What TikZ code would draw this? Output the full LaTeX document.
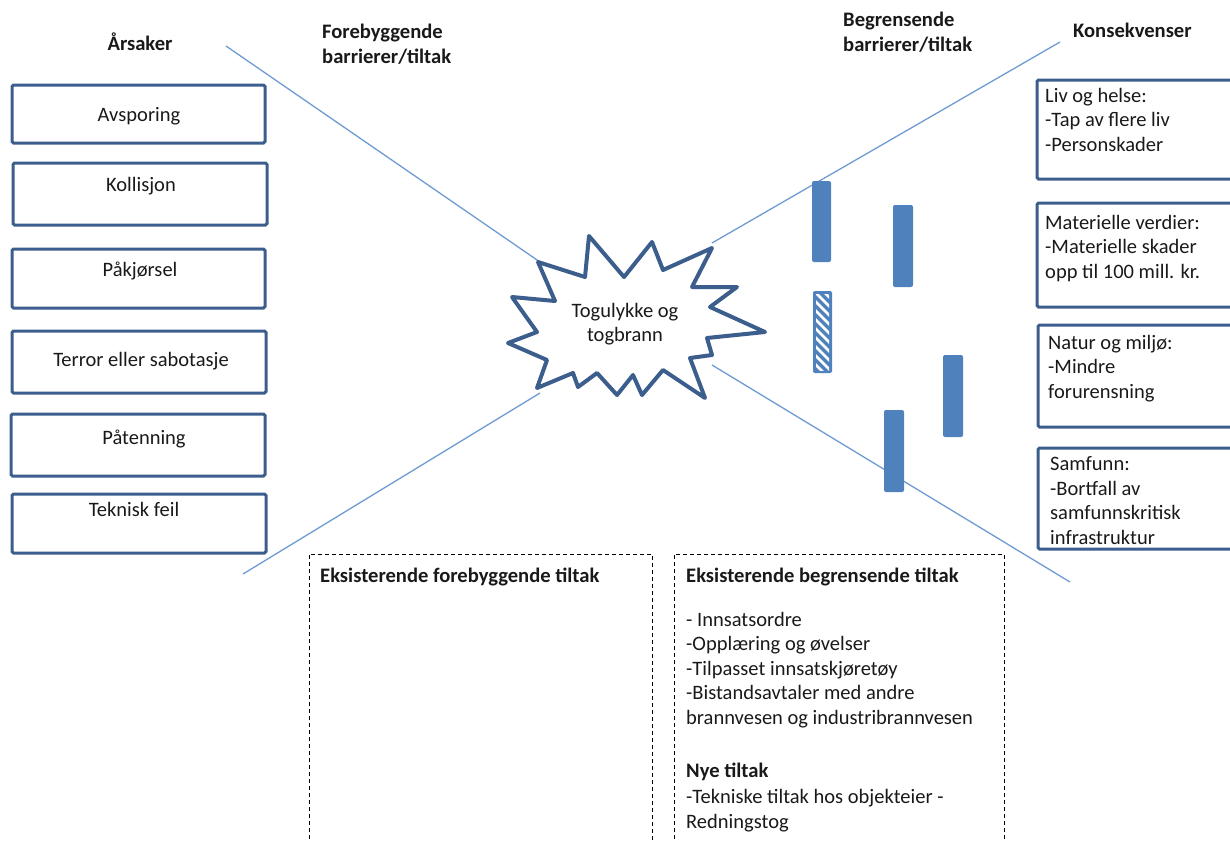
\documentclass[tikz,border=0pt]{standalone}
\usepackage{fontspec}
\setmainfont{Carlito}
\definecolor{boxblue}{RGB}{60,94,140}
\definecolor{linblue}{RGB}{110,155,210}
\definecolor{barblue}{RGB}{79,129,189}
\definecolor{txt}{RGB}{25,25,25}
\tikzset{
  causebox/.style={draw=boxblue, line width=3pt, rounded corners=1.5pt},
  conbox/.style={draw=boxblue, line width=3pt, rounded corners=1.5pt},
  diag/.style={draw=linblue, line width=1.3pt},
  burst/.style={draw=boxblue, fill=white, line width=4pt, line join=round},
  barfill/.style={fill=barblue, rounded corners=2pt},
  dashbox/.style={draw=black, line width=0.9pt, dash pattern=on 4pt off 3pt},
  lbl/.style={inner sep=0pt, text=txt, font=\fontsize{20.5}{24.5}\selectfont},
  lblb/.style={inner sep=0pt, text=txt, font=\fontsize{20.6}{25}\selectfont\bfseries},
}
\begin{document}
\begin{tikzpicture}[x=1pt,y=-1pt]
\useasboundingbox (0,0) rectangle (1230,841);
\clip (0,0) rectangle (1230,841);

% diagonal connectors
\coordinate (a1) at (226,46);  \coordinate (a2) at (540,262);
\coordinate (b1) at (243,574); \coordinate (b2) at (540,393);
\coordinate (c1) at (1060,42); \coordinate (c2) at (712,243);
\coordinate (d1) at (712,365); \coordinate (d2) at (1070,582);
\draw[diag] (a1) -- (a2);
\draw[diag] (b1) -- (b2);
\draw[diag] (c1) -- (c2);
\draw[diag] (d1) -- (d2);

% headers (multi-line nodes: base = last line)
\node[lblb, anchor=base] (hArs) at (140,50) {Årsaker};
\node[lblb, anchor=base west, align=left] (hFor) at (322,63) {Forebyggende\\barrierer/tiltak};
\node[lblb, anchor=base west, align=left] (hBeg) at (843,51) {Begrensende\\barrierer/tiltak};
\node[lblb, anchor=base west] (hKon) at (1073,37) {Konsekvenser};

% cause boxes
\draw[causebox] (12,85) rectangle (265,143);
\draw[causebox] (13,163) rectangle (267,225);
\draw[causebox] (12,249) rectangle (265,308);
\draw[causebox] (12,331) rectangle (266,393);
\draw[causebox] (11,414) rectangle (265,476);
\draw[causebox] (12,494) rectangle (266,553);
\node[lbl, anchor=base] (c1t) at (139,121) {Avsporing};
\node[lbl, anchor=base] (c2t) at (141,191) {Kollisjon};
\node[lbl, anchor=base] (c3t) at (140,276) {Påkjørsel};
\node[lbl, anchor=base] (c4t) at (141,366) {Terror eller sabotasje};
\node[lbl, anchor=base] (c5t) at (144,444) {Påtenning};
\node[lbl, anchor=base] (c6t) at (134,516) {Teknisk feil};

% consequence boxes
\draw[conbox] (1037,80) rectangle (1245,179);
\draw[conbox] (1037,203) rectangle (1245,307);
\draw[conbox] (1038,325) rectangle (1245,427);
\draw[conbox] (1038,448) rectangle (1245,549);
\node[lbl, anchor=base west, align=left] (k1) at (1045,151) {Liv og helse:\\-Tap av flere liv\\-Personskader};
\node[lbl, anchor=base west, align=left] (k2) at (1045,278) {Materielle verdier:\\-Materielle skader\\opp til 100 mill. kr.};
\node[lbl, anchor=base west, align=left] (k3) at (1048,398) {Natur og miljø:\\-Mindre\\forurensning};
\node[lbl, anchor=base west, align=left] (k4) at (1050,544) {Samfunn:\\-Bortfall av\\samfunnskritisk\\infrastruktur};

% starburst (top event)
\draw[burst] (538,262) -- (585,277) -- (589,236) -- (624,277) -- (652,242) -- (663,270)
  -- (712,248) -- (692,287) -- (737,287) -- (710,307) -- (765,332) -- (707,338)
  -- (712,355) -- (690,358) -- (705,398) -- (663,370) -- (642,395) -- (633,375)
  -- (617,395) -- (597,373) -- (578,387) -- (573,373) -- (537,388) -- (547,360)
  -- (508,343) -- (537,332) -- (512,297) -- (555,301) -- cycle;
\node[lbl, align=center] (event) at (625,324) {Togulykke og\\togbrann};

% barriers
\fill[barfill] (812,181) rectangle (831,262);
\fill[barfill] (893,205) rectangle (913,287);
\fill[barfill] (943,355) rectangle (963,437);
\fill[barfill] (884,410) rectangle (904,492);
\fill[barfill] (813,291) rectangle (832,373);
\begin{scope}
  \clip (816,294) rectangle (829,370);
  \foreach \k in {-2,...,10}
    \draw[white, line width=2.6pt] (810,{287+9*\k}) -- (840,{317+9*\k});
\end{scope}

% bottom dashed boxes
\draw[dashbox] (309,860) -- (309,554) -- (652,554) -- (652,860);
\draw[dashbox] (674,860) -- (674,554) -- (1004,554) -- (1004,860);
\node[lblb, anchor=base west] (ef) at (320,582) {Eksisterende forebyggende tiltak};
\node[lblb, anchor=base west] (eb) at (686,582) {Eksisterende begrensende tiltak};
\node[lbl, anchor=base west, align=left] (ebl) at (686,724) {- Innsatsordre\\-Opplæring og øvelser\\-Tilpasset innsatskjøretøy\\-Bistandsavtaler med andre\\brannvesen og industribrannvesen};
\node[lblb, anchor=base west] (ny) at (686,777) {Nye tiltak};
\node[lbl, anchor=base west, align=left] (nyl) at (686,828) {-Tekniske tiltak hos objekteier -\\Redningstog};
\end{tikzpicture}
\end{document}
